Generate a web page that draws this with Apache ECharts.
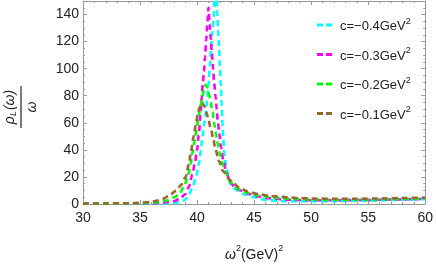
<!DOCTYPE html>
<html><head><meta charset="utf-8">
<script src="https://cdn.jsdelivr.net/npm/echarts@6/dist/echarts.min.js"></script>
<style>html,body{margin:0;padding:0;background:#fff}#c{width:436px;height:267px}</style>
</head><body><div id="c"></div>
<script>
const seriesNames = ['c=−0.4GeV', 'c=−0.3GeV', 'c=−0.2GeV', 'c=−0.1GeV'];
const seriesColors = ['#00ffff', '#ff00ff', '#00ff00', '#996633'];

const x04 = [30,35,37,38,38.5,38.8,39.16,39.6,39.9,40.17,40.32,40.46,40.6,40.75,40.9,41.0,41.13,41.22,41.33,41.48,41.62,41.77,41.85,41.92,42.0,42.08,42.15,42.22,42.3,42.4,42.55,42.75,42.95,43.5,44.2,45,46,47,48,50,52,55,58,60];
const y04 = [0.1,0.2,0.4,0.8,1.5,2.5,4.5,12,20,30,39,48.6,58,67,78,88,103,115,127,141,185,141,128,116,102,88,74,60,48,37,27,19,14.5,10,7,5,3,2.3,2.1,2,2.1,2.5,3.1,3.6];

const x03 = [30,34,36,37,37.5,38,38.5,39,39.3,39.6,39.8,40.0,40.15,40.3,40.41,40.5,40.6,40.7,40.8,40.9,41.0,41.1,41.2,41.3,41.4,41.5,41.63,41.72,41.82,41.95,42.1,42.3,42.55,42.9,43.3,43.8,44.5,45.4,46.4,47.3,48.1,49,50,52,55,58,60];
const y03 = [0.2,0.3,0.6,1,1.5,2.2,4,7.5,13,22,30,40,51,66,79,88,98,109,121,133,145,133,122,111,100,89,79,70,61,52,42,32,24,16,12.5,10,7.5,5.5,4.2,3.5,3.1,2.9,2.8,2.8,3,3.4,3.8];

const x02 = [30,33,35,36,36.5,37,37.5,38,38.43,38.87,39.2,39.45,39.6,39.8,39.97,40.1,40.26,40.45,40.62,40.75,40.9,41.05,41.2,41.35,41.5,41.65,41.8,42.0,42.25,42.5,42.9,43.3,43.8,44.5,45.4,46.4,47.3,48.1,49,50,52,55,58,60];
const y02 = [0.2,0.3,0.5,0.9,1.3,2,3,5,7.3,13,21,30,38,47,56,63,70,79,85,88,86,81,75,68,60,52,45,37,29,23,16.5,13,10.5,8,6.3,5,4.3,3.8,3.5,3.3,3.2,3.3,3.7,4.1];

const x01 = [30,32,34,35,36,36.5,37,37.5,38.15,38.6,39,39.3,39.45,39.7,39.9,40.05,40.25,40.45,40.65,40.85,41.0,41.2,41.4,41.6,41.9,42.3,42.8,43.2,43.8,44.5,45.4,46.4,47.3,48.1,49,50,52,54,56,58,60];
const y01 = [0.3,0.4,0.6,0.9,1.6,2.6,3.8,5.8,9.7,14,20,30,38,50,59,66,72,75,72,67,62,56,49,41,32,24,18.5,15,11.5,9,7.3,6,5.3,4.8,4.4,4.0,3.9,3.9,4.1,4.4,4.8];

const xMin = 30, xMax = 60, xStep = 5;
const yMin = 0, yMax = 150, yStep = 20, yMinorStep = 5;

const xs = [x04, x03, x02, x01];
const ys = [y04, y03, y02, y01];

const FONT = 'Liberation Sans, Arial, sans-serif';
const frameColor = '#9a9a9a';

function zip(a, b) { return a.map((v, i) => [v, b[i]]); }

const chart = echarts.init(document.getElementById('c'), null, {renderer: 'canvas'});

const baseX = {
  type: 'value', min: xMin, max: xMax, interval: xStep,
  axisLine: {show: true, onZero: false, lineStyle: {color: frameColor, width: 1}},
  axisTick: {show: true, inside: true, length: 4, lineStyle: {color: frameColor}},
  minorTick: {show: true, splitNumber: 5, length: 2, lineStyle: {color: frameColor}},
  splitLine: {show: false}
};
const baseY = {
  type: 'value', min: yMin, max: yMax, interval: yStep,
  axisLine: {show: true, onZero: false, lineStyle: {color: frameColor, width: 1}},
  axisTick: {show: true, inside: true, length: 4, lineStyle: {color: frameColor}},
  splitLine: {show: false}
};
const minorY = {
  type: 'value', min: yMin, max: yMax, interval: yMinorStep,
  axisLine: {show: false},
  axisTick: {show: true, inside: true, length: 2, lineStyle: {color: frameColor}},
  axisLabel: {show: false},
  splitLine: {show: false}
};

const option = {
  animation: false,
  backgroundColor: '#fff',
  grid: {left: 83, right: 8, top: 1, bottom: 55, containLabel: false},
  xAxis: [
    Object.assign({}, baseX, {
      position: 'bottom',
      axisLabel: {show: true, color: '#222', fontSize: 14, fontFamily: FONT, margin: 7},
      name: '{i|ω}{s|2}{n|(GeV)}{s|2}',
      nameLocation: 'middle', nameGap: 40,
      nameTextStyle: {
        color: '#222', fontFamily: FONT, fontSize: 14,
        rich: {
          i: {fontSize: 14, fontStyle: 'italic', fontFamily: FONT, color: '#222', lineHeight: 18, verticalAlign: 'bottom'},
          n: {fontSize: 14, fontFamily: FONT, color: '#222', lineHeight: 18, verticalAlign: 'bottom'},
          s: {fontSize: 9, fontFamily: FONT, color: '#222', lineHeight: 18, verticalAlign: 'top'}
        }
      }
    }),
    Object.assign({}, baseX, {position: 'top', axisLabel: {show: false}})
  ],
  yAxis: [
    Object.assign({}, baseY, {
      position: 'left',
      axisLabel: {show: true, color: '#222', fontSize: 14, fontFamily: FONT, margin: 4, showMaxLabel: false}
    }),
    Object.assign({}, baseY, {position: 'right', axisLabel: {show: false}}),
    Object.assign({}, minorY, {position: 'left'}),
    Object.assign({}, minorY, {position: 'right'})
  ],
  legend: {
    orient: 'vertical', left: 312, top: 12, itemGap: 13.5,
    itemWidth: 15, itemHeight: 3,
    icon: 'path://M0,0h6v3h-6z M9,0h6v3h-6z',
    itemStyle: {borderWidth: 0},
    data: seriesNames,
    formatter: n => '{t|' + n + '}{s|2}',
    textStyle: {
      fontFamily: FONT, fontSize: 13, color: '#222', padding: [0, 0, 0, 3],
      rich: {
        t: {fontFamily: FONT, fontSize: 13, color: '#222', lineHeight: 16, verticalAlign: 'bottom'},
        s: {fontFamily: FONT, fontSize: 9, color: '#222', lineHeight: 16, verticalAlign: 'top'}
      }
    }
  },
  graphic: [{
    type: 'group', x: 21, y: 107, rotation: Math.PI / 2,
    children: [
      {type: 'line', shape: {x1: -21, y1: 0, x2: 21, y2: 0}, style: {stroke: '#222', lineWidth: 1.2}},
      {type: 'text', x: 0, y: -3, style: {
        text: '{g|ρ}{l|L}{g|(}{w|ω}{g|)}', align: 'center', verticalAlign: 'bottom',
        rich: {
          g: {fontFamily: FONT, fontSize: 14, fill: '#222', fontStyle: 'italic'},
          w: {fontFamily: FONT, fontSize: 14, fill: '#222', fontStyle: 'italic'},
          l: {fontFamily: FONT, fontSize: 9, fill: '#222', fontStyle: 'italic', verticalAlign: 'bottom', padding: [6, 1, 0, 0]}
        }
      }},
      {type: 'text', x: 0, y: 4, style: {
        text: 'ω', align: 'center', verticalAlign: 'top',
        fontFamily: FONT, fontSize: 14, fill: '#222', fontStyle: 'italic'
      }}
    ]
  }],
  series: seriesNames.map((n, i) => ({
    name: n, type: 'line', xAxisIndex: 0, yAxisIndex: 0,
    data: zip(xs[i], ys[i]),
    showSymbol: false, symbol: 'none',
    smooth: 0.3, smoothMonotone: 'x',
    clip: true,
    color: seriesColors[i],
    lineStyle: {color: seriesColors[i], width: 2.6, type: [6, 4]},
    z: 2 + i
  }))
};
chart.setOption(option);
</script></body></html>
